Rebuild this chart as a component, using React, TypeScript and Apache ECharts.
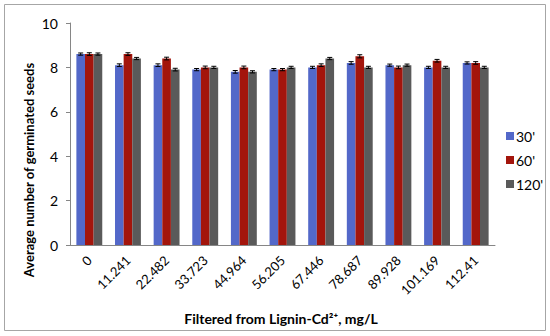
import React, { useEffect, useRef } from "react";
import * as echarts from "echarts";

const categories = ["0", "11.241", "22.482", "33.723", "44.964", "56.205", "67.446", "78.687", "89.928", "101.169", "112.41"];
const seriesNames = ["30'", "60'", "120'"];
const values30 = [8.6, 8.1, 8.1, 7.9, 7.8, 7.9, 8.0, 8.2, 8.1, 8.0, 8.2];
const values60 = [8.6, 8.6, 8.4, 8.0, 8.0, 7.9, 8.1, 8.5, 8.0, 8.3, 8.2];
const values120 = [8.6, 8.4, 7.9, 8.0, 7.8, 8.0, 8.4, 8.0, 8.1, 8.0, 8.0];
const errors30 = [0.05, 0.06, 0.06, 0.05, 0.06, 0.05, 0.05, 0.06, 0.05, 0.05, 0.05];
const errors60 = [0.06, 0.06, 0.06, 0.06, 0.06, 0.05, 0.06, 0.07, 0.06, 0.06, 0.06];
const errors120 = [0.05, 0.05, 0.06, 0.05, 0.05, 0.05, 0.05, 0.05, 0.05, 0.05, 0.05];
const yTicks = [0, 2, 4, 6, 8, 10];

const colors = ["#5368C9", "#A3150C", "#5A5A5A"];
const CAT_GAP = 0.33;
const FONT = "Lato, 'Open Sans', sans-serif";

export default function App() {
  const ref = useRef<HTMLDivElement>(null);
  useEffect(() => {
    if (!ref.current) return;
    const chart = echarts.init(ref.current, null, { renderer: "svg" });
    const vals = [values30, values60, values120];
    const errs = [errors30, errors60, errors120];

    const barSeries = seriesNames.map((name, i) => ({
      name,
      type: "bar",
      data: vals[i],
      barGap: "0%",
      barCategoryGap: "33%",
      itemStyle: { color: colors[i] },
      z: 2,
    }));

    const errSeries = seriesNames.map((name, i) => ({
      name: name + "_err",
      type: "custom",
      z: 5,
      silent: true,
      data: vals[i].map((v, k) => [k, v - errs[i][k], v + errs[i][k]]),
      renderItem: (params: any, api: any) => {
        const k = api.value(0);
        const lo = api.coord([k, api.value(1)]);
        const hi = api.coord([k, api.value(2)]);
        const catW = api.size([1, 0])[0];
        const barW = (catW * (1 - CAT_GAP)) / 3;
        const x = lo[0] + (i - 1) * barW;
        const cap = 2.5;
        const style = { stroke: "#000", lineWidth: 1 };
        return {
          type: "group",
          children: [
            { type: "line", shape: { x1: x, y1: lo[1], x2: x, y2: hi[1] }, style },
            { type: "line", shape: { x1: x - cap, y1: lo[1], x2: x + cap, y2: lo[1] }, style },
            { type: "line", shape: { x1: x - cap, y1: hi[1], x2: x + cap, y2: hi[1] }, style },
          ],
        };
      },
    }));

    chart.setOption({
      animation: false,
      textStyle: { fontFamily: FONT },
      grid: { left: 70, right: 55, top: 23, bottom: 91 },
      legend: {
        data: seriesNames,
        orient: "vertical",
        left: 501,
        top: 124,
        itemWidth: 8,
        itemHeight: 8,
        itemGap: 10,
        icon: "rect",
        textStyle: { fontSize: 14, color: "#000", fontFamily: FONT, padding: [0, 0, 0, -3] },
      },
      xAxis: {
        type: "category",
        data: categories,
        axisLine: { lineStyle: { color: "#868686" } },
        axisTick: { show: false },
        axisLabel: { rotate: 45, fontSize: 13, color: "#000", margin: 13, fontFamily: FONT, interval: 0 },
      },
      yAxis: {
        type: "value",
        min: yTicks[0],
        max: yTicks[yTicks.length - 1],
        interval: 2,
        axisLine: { show: true, lineStyle: { color: "#868686" } },
        axisTick: { show: true, length: 4, lineStyle: { color: "#868686" } },
        splitLine: { show: false },
        axisLabel: { fontSize: 14, color: "#000", margin: 12, fontFamily: FONT },
      },
      graphic: [
        {
          type: "rect",
          shape: { x: 4.5, y: 4.5, width: 541, height: 326 },
          style: { fill: "none", stroke: "#A6A6A6", lineWidth: 1 },
          z: -1,
        },
        {
          type: "text",
          x: 29,
          y: 170,
          rotation: Math.PI / 2,
          style: {
            text: "Average number of germinated seeds",
            fontSize: 13,
            fontWeight: "bold",
            fontFamily: FONT,
            fill: "#000",
            align: "center",
            verticalAlign: "middle",
          },
        },
        {
          type: "text",
          x: 281,
          y: 318,
          style: {
            text: "Filtered from Lignin-Cd²⁺, mg/L",
            fontSize: 14,
            fontWeight: "bold",
            fontFamily: FONT,
            fill: "#000",
            align: "center",
            verticalAlign: "middle",
          },
        },
      ],
      series: [...barSeries, ...errSeries],
    });
    return () => chart.dispose();
  }, []);
  return <div ref={ref} style={{ width: 550, height: 336, position: "absolute", left: 0, top: 0 }} />;
}
